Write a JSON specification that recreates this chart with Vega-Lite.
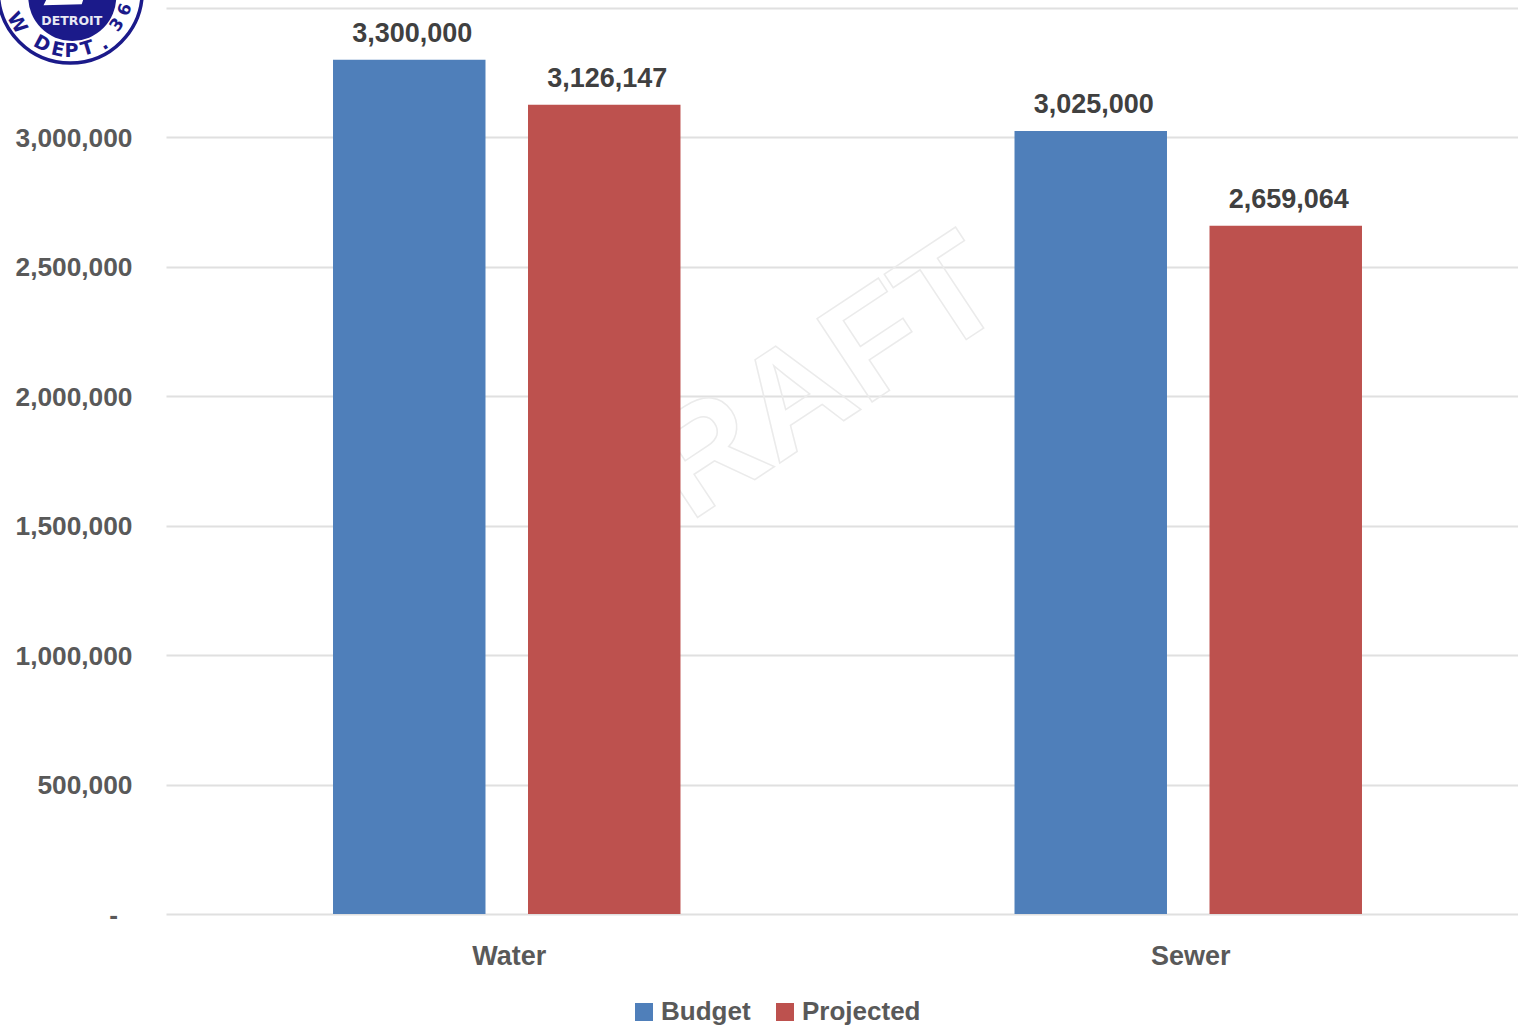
{
  "$schema": "https://vega.github.io/schema/vega-lite/v6.json",
  "width": 1352,
  "height": 906,
  "autosize": {"type": "none"},
  "padding": {"left": 166, "top": 8, "right": 0, "bottom": 117},
  "background": "white",
  "view": {"stroke": null},
  "data": {"values": [
    {"area": "Water", "series": "Budget", "amount": 3300000},
    {"area": "Water", "series": "Projected", "amount": 3126147},
    {"area": "Sewer", "series": "Budget", "amount": 3025000},
    {"area": "Sewer", "series": "Projected", "amount": 2659064}
  ]},
  "layer": [
    {
      "data": {"values": [{"stamp": "DRAFT"}]},
      "mark": {"type": "text", "font": "Liberation Sans", "fontWeight": "bold", "fontSize": 145, "angle": -33.5, "align": "center", "baseline": "alphabetic", "dx": 360, "fill": "transparent", "stroke": "#ebebeb", "strokeWidth": 1.5},
      "encoding": {
        "x": {"datum": "Water", "type": "nominal", "scale": {"domain": ["Water", "Sewer"], "range": [0, 1363], "paddingInner": 0, "paddingOuter": 0}, "axis": {"title": null, "ticks": false, "domain": false, "grid": false, "labelAngle": 0, "labelFont": "Liberation Sans", "labelFontWeight": "bold", "labelFontSize": 27, "labelColor": "#595959", "labelPadding": 50, "labelOffset": 2.5, "labelBaseline": "alphabetic"}},
        "y": {"datum": 1044000, "type": "quantitative", "scale": {"domain": [0, 3500000], "nice": false}, "axis": {"title": null, "grid": true, "values": [0, 500000, 1000000, 1500000, 2000000, 2500000, 3000000, 3500000], "labelExpr": "datum.value === 0 ? '-\u00a0\u00a0\u200c' : datum.value === 3500000 ? '' : format(datum.value, ',')", "ticks": false, "domain": false, "gridColor": "#e0e0e0", "gridWidth": 2, "labelFont": "Liberation Sans", "labelFontWeight": "bold", "labelFontSize": 26.3, "labelColor": "#595959", "labelPadding": 34, "labelOffset": 1}},
        "text": {"field": "stamp"}
      }
    },
    {
      "mark": {"type": "bar"},
      "encoding": {
        "x": {"field": "area", "type": "nominal"},
        "xOffset": {"field": "series", "type": "nominal", "scale": {"domain": ["Budget", "Projected"], "paddingInner": 0.218, "paddingOuter": 0.8565}},
        "y": {"field": "amount", "type": "quantitative"},
        "color": {"field": "series", "type": "nominal", "scale": {"domain": ["Budget", "Projected"], "range": ["#4f7fba", "#bd514e"]}, "legend": {"orient": "none", "legendX": 465, "legendY": 991, "direction": "horizontal", "title": null, "symbolType": "square", "symbolSize": 324, "symbolStrokeWidth": 0, "labelFont": "Liberation Sans", "labelFontWeight": "bold", "labelFontSize": 26, "labelColor": "#595959", "labelOffset": 4, "columnPadding": 21}}
      }
    },
    {
      "mark": {"type": "text", "font": "Liberation Sans", "fontWeight": "bold", "fontSize": 27, "color": "#404040", "baseline": "alphabetic", "dx": 3, "dy": -18},
      "encoding": {
        "x": {"field": "area", "type": "nominal"},
        "xOffset": {"field": "series", "type": "nominal"},
        "y": {"field": "amount", "type": "quantitative"},
        "text": {"field": "amount", "type": "quantitative", "format": ","}
      }
    },
    {
      "data": {"values": [{"seal": "Detroit Water and Sewerage Dept."}]},
      "encoding": {
        "x": {"datum": "Water", "type": "nominal"},
        "y": {"datum": 3565700, "type": "quantitative"}
      },
      "layer": [
        {"mark": {"type": "point", "filled": true, "fill": "white", "stroke": "#1b1a8a", "strokeWidth": 3.5, "opacity": 1, "size": 20736, "xOffset": -436.5}},
        {"mark": {"type": "point", "filled": true, "fill": "#1b1a8a", "stroke": null, "opacity": 1, "size": 7744, "xOffset": -434.5, "yOffset": 6}},
        {"mark": {"type": "point", "filled": true, "fill": "white", "stroke": null, "opacity": 1, "size": 1800, "shape": "M -1 0.2 L -0.7 -0.4 L -0.1 -0.7 L 0.2 -0.35 L 1 -0.45 L 0.8 0.15 Z", "xOffset": -442, "yOffset": 10}},
        {"mark": {"type": "text", "text": "DETROIT", "font": "DejaVu Sans", "fontWeight": "bold", "fontSize": 12.5, "fill": "#e8e8f4", "xOffset": -435, "yOffset": 30}},
        {"mark": {"type": "text", "text": "D", "font": "DejaVu Sans", "fontWeight": "bold", "fontSize": 19, "fill": "#1b1a8a", "radius": 60, "theta": 3.63, "angle": 28, "xOffset": -436.5}},
        {"mark": {"type": "text", "text": "E", "font": "DejaVu Sans", "fontWeight": "bold", "fontSize": 19, "fill": "#1b1a8a", "radius": 60, "theta": 3.35, "angle": 12, "xOffset": -436.5}},
        {"mark": {"type": "text", "text": "P", "font": "DejaVu Sans", "fontWeight": "bold", "fontSize": 19, "fill": "#1b1a8a", "radius": 60, "theta": 3.12, "angle": 0, "xOffset": -436.5}},
        {"mark": {"type": "text", "text": "T", "font": "DejaVu Sans", "fontWeight": "bold", "fontSize": 19, "fill": "#1b1a8a", "radius": 60, "theta": 2.85, "angle": -17, "xOffset": -436.5}},
        {"mark": {"type": "text", "text": ".", "font": "DejaVu Sans", "fontWeight": "bold", "fontSize": 19, "fill": "#1b1a8a", "radius": 62, "theta": 2.58, "angle": -32, "xOffset": -436.5}},
        {"mark": {"type": "text", "text": "W", "font": "DejaVu Sans", "fontWeight": "bold", "fontSize": 19, "fill": "#1b1a8a", "radius": 62, "theta": 4.17, "angle": 59, "xOffset": -436.5}},
        {"mark": {"type": "text", "text": "3", "font": "DejaVu Sans", "fontWeight": "bold", "fontSize": 17, "fill": "#1b1a8a", "radius": 58, "theta": 2.2, "angle": -54, "xOffset": -436.5}},
        {"mark": {"type": "text", "text": "6", "font": "DejaVu Sans", "fontWeight": "bold", "fontSize": 17, "fill": "#1b1a8a", "radius": 58, "theta": 1.9, "angle": -71, "xOffset": -436.5}}
      ]
    }
  ]
}
